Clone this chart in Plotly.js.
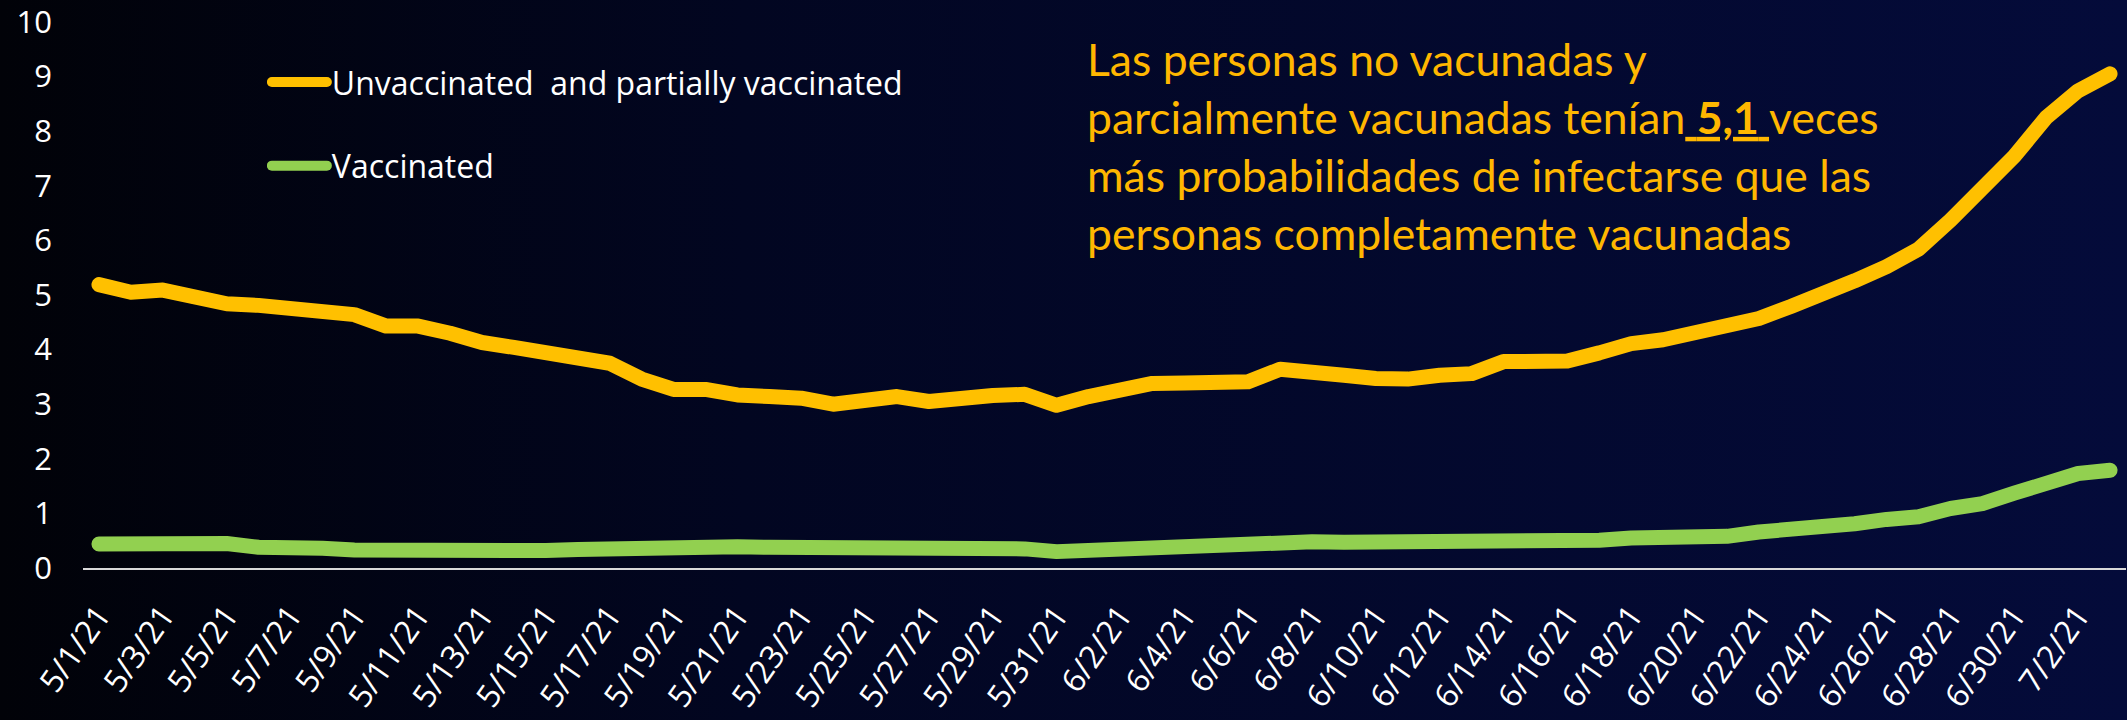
<!DOCTYPE html>
<html>
<head>
<meta charset="utf-8">
<script src="https://cdn.plot.ly/plotly-3.0.1.min.js"></script>
<style>
  html, body { margin:0; padding:0; width:2127px; height:720px; overflow:hidden;
    background: linear-gradient(90deg, #010208 0%, #020621 35%, #040b3a 100%); }
  #chart { width:2127px; height:720px; }
  .js-line { stroke-linecap: round; stroke-linejoin: round; }
</style>
</head>
<body>
<div id="chart"></div>
<script>
const dates = ["5/1/21","5/2/21","5/3/21","5/4/21","5/5/21","5/6/21","5/7/21","5/8/21","5/9/21","5/10/21",
"5/11/21","5/12/21","5/13/21","5/14/21","5/15/21","5/16/21","5/17/21","5/18/21","5/19/21","5/20/21",
"5/21/21","5/22/21","5/23/21","5/24/21","5/25/21","5/26/21","5/27/21","5/28/21","5/29/21","5/30/21",
"5/31/21","6/1/21","6/2/21","6/3/21","6/4/21","6/5/21","6/6/21","6/7/21","6/8/21","6/9/21",
"6/10/21","6/11/21","6/12/21","6/13/21","6/14/21","6/15/21","6/16/21","6/17/21","6/18/21","6/19/21",
"6/20/21","6/21/21","6/22/21","6/23/21","6/24/21","6/25/21","6/26/21","6/27/21","6/28/21","6/29/21",
"6/30/21","7/1/21","7/2/21","7/3/21"];

const unvaccinated = [5.19,5.05,5.09,4.96,4.84,4.81,4.74,4.66,4.64,4.43,
4.43,4.30,4.13,4.04,3.94,3.87,3.75,3.46,3.27,3.27,
3.17,3.14,3.11,3.00,3.08,3.14,3.05,3.13,3.16,3.18,
2.98,3.14,3.26,3.38,3.39,3.40,3.41,3.64,3.61,3.53,
3.47,3.46,3.53,3.56,3.78,3.76,3.79,3.94,4.11,4.18,
4.31,4.37,4.57,4.79,5.06,5.26,5.52,5.84,6.37,6.92,
7.54,8.25,8.74,9.05];

const vaccinated = [0.44,0.44,0.44,0.45,0.45,0.38,0.39,0.36,0.33,0.32,
0.32,0.32,0.32,0.31,0.32,0.34,0.36,0.36,0.37,0.40,
0.39,0.38,0.38,0.37,0.36,0.35,0.35,0.34,0.34,0.35,
0.30,0.33,0.35,0.35,0.38,0.39,0.42,0.49,0.48,0.47,
0.47,0.45,0.46,0.46,0.47,0.47,0.51,0.51,0.55,0.55,
0.56,0.58,0.66,0.70,0.77,0.81,0.89,0.94,1.09,1.18,
1.37,1.54,1.73,1.79];

const yTicks = [0,1,2,3,4,5,6,7,8,9,10];
const seriesNames = ["Unvaccinated\u00a0 and partially vaccinated", "Vaccinated"];
const noteText = "Las personas no vacunadas y<br>parcialmente vacunadas tenían<u> <b>5,1</b> </u>veces<br>más probabilidades de infectarse que las<br>personas completamente vacunadas";

const xTickVals = dates.filter((d, i) => i % 2 === 0);

const traces = [
  { x: dates, y: unvaccinated, type: 'scatter', mode: 'lines', name: seriesNames[0],
    legendgroup: 'a', line: { color: '#FFC000', width: 15 } },
  { x: dates, y: vaccinated, type: 'scatter', mode: 'lines', name: seriesNames[1],
    legendgroup: 'b', line: { color: '#92D050', width: 15 } }
];

const layout = {
  width: 2127, height: 720,
  paper_bgcolor: 'rgba(0,0,0,0)', plot_bgcolor: 'rgba(0,0,0,0)',
  margin: { l: 83, r: 1, t: 22, b: 152 },
  font: { family: 'Open Sans, sans-serif', color: '#ffffff' },
  xaxis: {
    type: 'category', categoryorder: 'array', categoryarray: dates,
    range: [-0.5, dates.length - 0.5],
    tickmode: 'array', tickvals: xTickVals, ticktext: xTickVals,
    tickangle: -55, tickfont: { size: 32, color: '#ffffff', family: 'Open Sans, sans-serif' },
    showgrid: false, zeroline: false, showline: true, linecolor: '#d9d9d9', linewidth: 2,
    ticks: '', ticklabelstandoff: 14, fixedrange: true
  },
  yaxis: {
    range: [0, 10], tickmode: 'array', tickvals: yTicks, ticktext: yTicks.map(String),
    tickfont: { size: 31, color: '#ffffff', family: 'Open Sans, sans-serif' },
    ticklabeloverflow: 'allow',
    showgrid: false, zeroline: false, showline: false, ticks: '', ticklabelstandoff: 30,
    fixedrange: true
  },
  showlegend: true,
  legend: {
    x: 0.090, y: 0.94, xanchor: 'left', yanchor: 'top',
    bgcolor: 'rgba(0,0,0,0)', font: { size: 32, color: '#ffffff', family: 'Open Sans, sans-serif' },
    tracegroupgap: 39, itemwidth: 55, traceorder: 'grouped'
  },
  annotations: [{
    xref: 'paper', yref: 'paper', x: 0.4905, y: 0.985, xanchor: 'left', yanchor: 'top',
    align: 'left', showarrow: false, text: noteText,
    font: { family: 'Lato, sans-serif', size: 44.5, color: '#FFB700' }
  }]
};

Plotly.newPlot('chart', traces, layout, { displayModeBar: false, staticPlot: true });
</script>
</body>
</html>
